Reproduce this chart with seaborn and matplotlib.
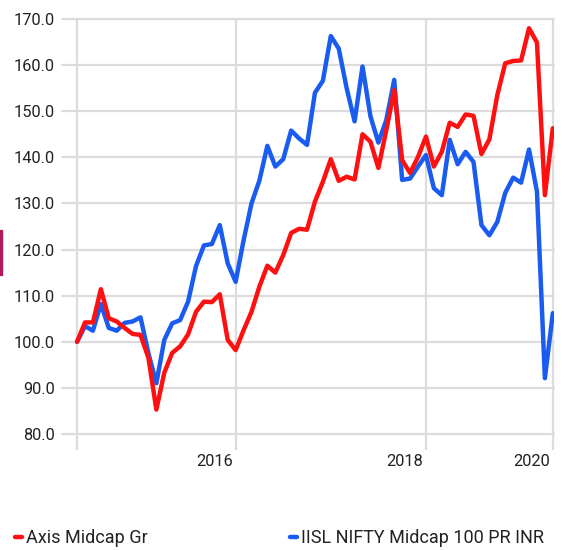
import seaborn as sns
import matplotlib.pyplot as plt
import matplotlib.transforms as mtransforms
from matplotlib.patches import Rectangle
import pandas as pd

# monthly growth of 100
months = list(range(61))
axis_midcap = [100.0, 104.2, 104.2, 111.4, 105.1, 104.4, 103.0, 101.7, 101.5, 96.5,
               85.3, 93.3, 97.6, 99.0, 101.6, 106.5, 108.7, 108.6, 110.3, 100.4,
               98.2, 102.5, 106.5, 112.0, 116.5, 115.0, 118.8, 123.6, 124.5, 124.3,
               130.4, 134.7, 139.6, 134.9, 135.8, 135.2, 145.0, 143.4, 137.7, 145.9,
               154.6, 139.4, 136.6, 140.1, 144.5, 138.0, 141.2, 147.5, 146.6, 149.3,
               149.0, 140.7, 143.9, 153.5, 160.4, 160.9, 161.0, 168.0, 164.9, 131.8, 146.3]
nifty_midcap = [100.0, 103.4, 102.4, 108.2, 103.0, 102.4, 104.1, 104.4, 105.3, 97.5,
                91.0, 100.4, 104.0, 104.7, 108.7, 116.4, 120.9, 121.2, 125.3, 117.0,
                113.0, 122.0, 130.0, 135.0, 142.5, 138.0, 139.6, 145.8, 144.1, 142.7,
                154.0, 156.6, 166.3, 163.6, 155.0, 147.8, 159.7, 148.9, 143.2, 148.1,
                156.8, 135.1, 135.4, 138.0, 140.5, 133.3, 131.8, 143.8, 138.5, 141.2,
                139.0, 125.3, 123.1, 126.0, 132.3, 135.6, 134.5, 141.7, 132.6, 92.1, 106.2]
year_ticks = [0, 20, 44, 60]
year_labels = ["", "2016", "2018", "2020"]
y_ticks = [80, 90, 100, 110, 120, 130, 140, 150, 160, 170]

sns.set_theme(style="white")
plt.rcParams["font.family"] = ["Roboto", "DejaVu Sans"]
txt = "#222222"
grid_c = "#dcdcdc"

df = pd.DataFrame({"month": months, "Axis Midcap Gr": axis_midcap,
                   "IISL NIFTY Midcap 100 PR INR": nifty_midcap})

fig = plt.figure(figsize=(5.62, 5.5), dpi=100)
ax = fig.add_axes([62 / 562, 1 - 434 / 550, (554 - 62) / 562, (434 - 19) / 550])

sns.lineplot(data=df, x="month", y="IISL NIFTY Midcap 100 PR INR", ax=ax,
             color="#1a5cf0", lw=3.2, label="IISL NIFTY Midcap 100 PR INR", legend=False)
sns.lineplot(data=df, x="month", y="Axis Midcap Gr", ax=ax,
             color="#ff1010", lw=3.2, label="Axis Midcap Gr", legend=False)

ax.set_xlim(-1.9, 60.15)
ax.set_ylim(80, 170)
ax.set_xlabel("")
ax.set_ylabel("")
for s in ax.spines.values():
    s.set_visible(False)

ax.set_yticks(y_ticks)
ax.set_yticklabels([f"{v:.1f}" for v in y_ticks])
ax.set_xticks(year_ticks)
ax.set_xticklabels(year_labels)
ax.grid(True, color=grid_c, lw=1.6)
ax.set_axisbelow(True)
for gl in ax.get_xgridlines() + ax.get_ygridlines():
    gl.set_clip_on(False)

ax.tick_params(axis="y", length=0, pad=5, labelsize=11.8, labelcolor=txt)
ax.tick_params(axis="x", length=11.5, width=1.6, color=grid_c, pad=3,
               labelsize=11.8, labelcolor=txt, bottom=True)
shift = mtransforms.ScaledTranslation(-3 / 100, 0, fig.dpi_scale_trans)
for lab in ax.get_xticklabels():
    lab.set_horizontalalignment("right")
    lab.set_transform(lab.get_transform() + shift)

h, l = ax.get_legend_handles_labels()
order = [1, 0]
fig.legend([h[i] for i in order], [l[i] for i in order],
           loc="center left", bbox_to_anchor=(15 / 562, 1 - 538 / 550),
           ncol=2, frameon=False, borderaxespad=0, borderpad=0,
           handlelength=0.4, handletextpad=0.2, columnspacing=7.9,
           fontsize=13, labelcolor=txt)

fig.patches.append(Rectangle((0, 1 - 275 / 550), 2 / 562, 45 / 550,
                             transform=fig.transFigure, color="#b3175b"))

fig.savefig("out.png", dpi=100)
